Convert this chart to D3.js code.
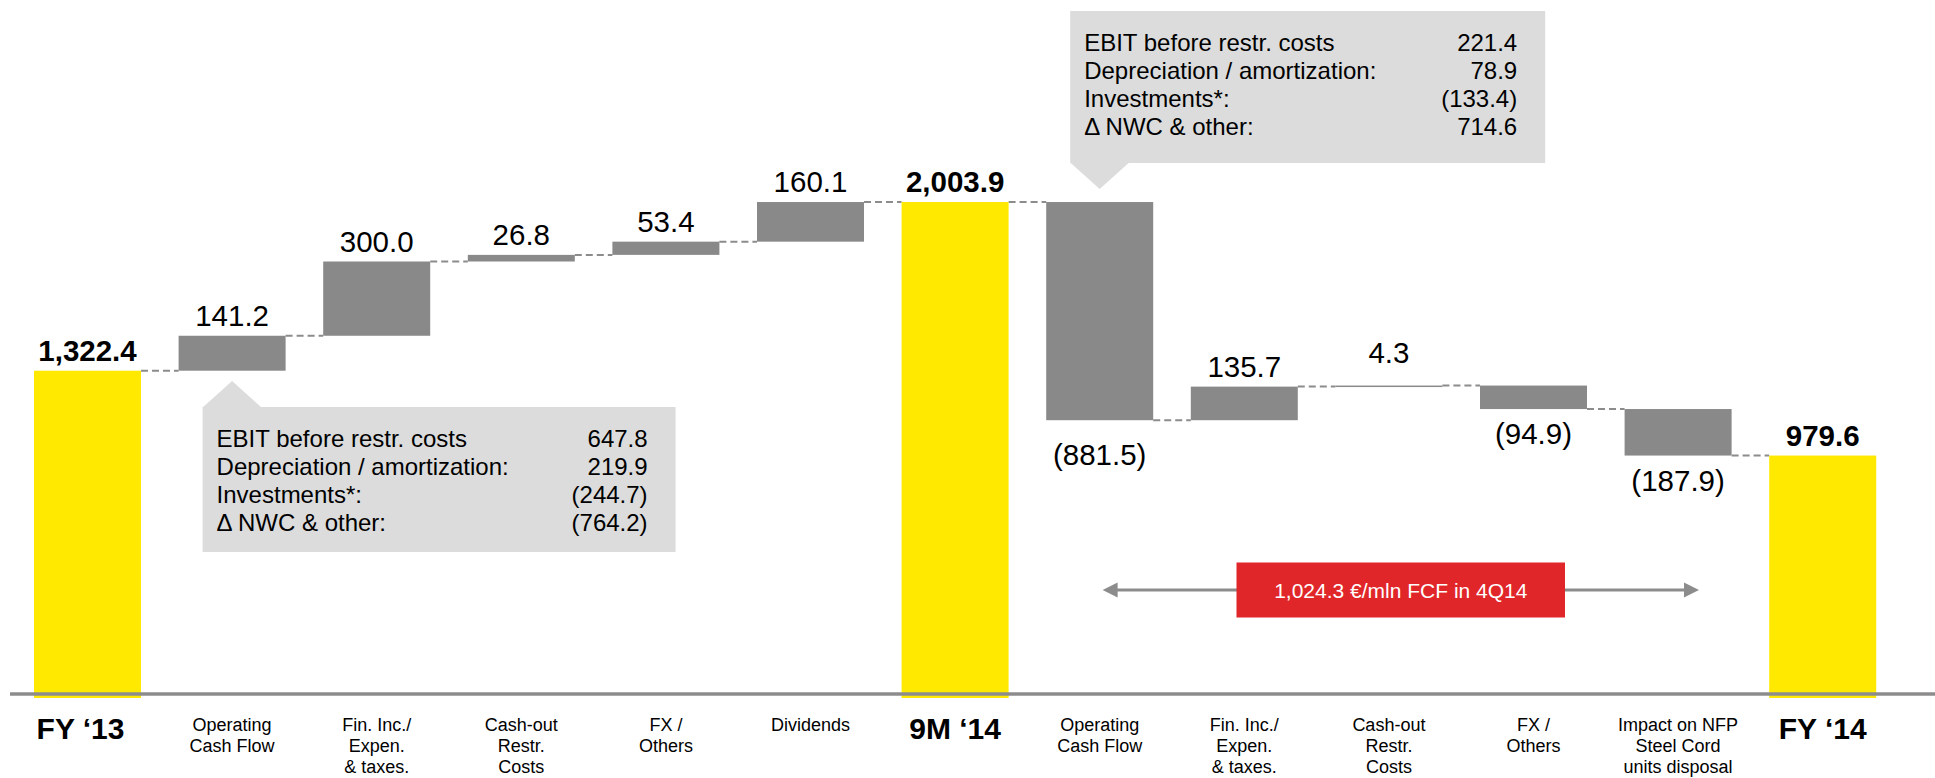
<!DOCTYPE html>
<html>
<head>
<meta charset="utf-8">
<script src="https://cdn.jsdelivr.net/npm/d3@7"></script>
<style>
  html, body { margin: 0; padding: 0; background: #ffffff; }
  svg { display: block; }
  text { font-family: "Liberation Sans", Arial, "Helvetica", sans-serif; }
</style>
</head>
<body>
<svg id="chart" width="1935" height="778"></svg>
<script>
// ---------------- DATA ----------------
const categories = [
  "FY \u201813",
  "Operating\nCash Flow",
  "Fin. Inc./\nExpen.\n& taxes.",
  "Cash-out\nRestr.\nCosts",
  "FX /\nOthers",
  "Dividends",
  "9M \u201814",
  "Operating\nCash Flow",
  "Fin. Inc./\nExpen.\n& taxes.",
  "Cash-out\nRestr.\nCosts",
  "FX /\nOthers",
  "Impact on NFP\nSteel Cord\nunits disposal",
  "FY \u201814"
];
const barKinds = ["total","delta","delta","delta","delta","delta","total","delta","delta","delta","delta","delta","total"];
const values = [1322.4, 141.2, 300.0, 26.8, 53.4, 160.1, 2003.9, -881.5, 135.7, 4.3, -94.9, -187.9, 979.6];

const calloutLabels = ["EBIT before restr. costs", "Depreciation / amortization:", "Investments*:", "\u0394 NWC & other:"];
const callout9MValues = ["647.8", "219.9", "(244.7)", "(764.2)"];
const callout4QValues = ["221.4", "78.9", "(133.4)", "714.6"];
const fcfText = "1,024.3 \u20ac/mln FCF in 4Q14";

// ---------------- STYLE ----------------
const YELLOW = "#FFE900";
const GRAY = "#898989";
const LINE_GRAY = "#8c8c8c";
const BOX_GRAY = "#dcdcdc";
const RED = "#e1262a";

const svg = d3.select("#chart");
const n = values.length;

const x = d3.scaleBand()
  .domain(d3.range(n))
  .range([15.2, 1895])
  .paddingInner(0.26)
  .paddingOuter(0.13);

const y = d3.scaleLinear().domain([0, 2000]).range([698, 203]);

// compute waterfall segments
let cum = 0;
const bars = values.map((v, i) => {
  let start, end;
  if (barKinds[i] === "total") { start = 0; end = v; }
  else { start = cum; end = cum + v; }
  cum = end;
  return { i, v, kind: barKinds[i], start, end, lo: Math.min(start, end), hi: Math.max(start, end) };
});

// connectors
const gConn = svg.append("g");
bars.slice(0, -1).forEach(b => {
  gConn.append("line")
    .attr("x1", x(b.i) + x.bandwidth())
    .attr("x2", x(b.i + 1))
    .attr("y1", y(b.end)).attr("y2", y(b.end))
    .attr("stroke", LINE_GRAY)
    .attr("stroke-width", 2)
    .attr("stroke-dasharray", "7,4");
});

// bars
svg.append("g").selectAll("rect").data(bars).join("rect")
  .attr("x", d => x(d.i))
  .attr("width", x.bandwidth())
  .attr("y", d => y(d.hi))
  .attr("height", d => Math.max(1.5, y(d.lo) - y(d.hi)))
  .attr("fill", d => d.kind === "total" ? YELLOW : GRAY);

// baseline
svg.append("line")
  .attr("x1", 10).attr("x2", 1935)
  .attr("y1", 694).attr("y2", 694)
  .attr("stroke", LINE_GRAY).attr("stroke-width", 3.5);

// value labels
const fmtTotal = d3.format(",.1f");
const fmtDelta = d3.format(".1f");
const labelNudge = { 7: 10, 9: -13 };
svg.append("g").selectAll("text").data(bars).join("text")
  .attr("x", d => x(d.i) + x.bandwidth() / 2)
  .attr("y", d => {
    const nudge = labelNudge[d.i] || 0;
    if (d.v >= 0) return y(d.hi) - 10 + nudge;
    return y(d.lo) + 35 + nudge;
  })
  .attr("text-anchor", "middle")
  .attr("font-size", d => d.kind === "total" ? 29.5 : 29.5)
  .attr("font-weight", d => d.kind === "total" ? "bold" : "normal")
  .attr("fill", "#000")
  .text(d => d.kind === "total" ? fmtTotal(d.v) : (d.v < 0 ? "(" + fmtDelta(-d.v) + ")" : fmtDelta(d.v)));

// category labels
const gCat = svg.append("g");
const catNudge = { 0: -7 };
categories.forEach((c, i) => {
  const cx = x(i) + x.bandwidth() / 2 + (catNudge[i] || 0);
  if (barKinds[i] === "total") {
    gCat.append("text")
      .attr("x", cx).attr("y", 739)
      .attr("text-anchor", "middle")
      .attr("font-size", 30).attr("font-weight", "bold")
      .text(c);
  } else {
    const t = gCat.append("text")
      .attr("text-anchor", "middle")
      .attr("font-size", 18);
    c.split("\n").forEach((line, k) => {
      t.append("tspan").attr("x", cx).attr("y", 731 + k * 21).text(line);
    });
  }
});

// callouts
function callout(barIndex, pointUp, apexY, gap, w, h, vals) {
  const ax = x(barIndex) + x.bandwidth() / 2;
  const left = ax - 29.5;
  const top = pointUp ? apexY + gap : apexY - gap - h;
  const baseY = pointUp ? top + 0.5 : top + h - 0.5;
  const g = svg.append("g");
  g.append("rect").attr("x", left).attr("y", top).attr("width", w).attr("height", h).attr("fill", BOX_GRAY);
  g.append("path")
    .attr("d", `M${left},${baseY} L${ax},${apexY} L${left + 59},${baseY} Z`)
    .attr("fill", BOX_GRAY);
  calloutLabels.forEach((lab, k) => {
    const by = top + 40 + k * 28;
    g.append("text").attr("x", left + 14).attr("y", by)
      .attr("font-size", 24).attr("fill", "#000").text(lab);
    g.append("text").attr("x", left + w - 28).attr("y", by)
      .attr("text-anchor", "end")
      .attr("font-size", 24).attr("fill", "#000").text(vals[k]);
  });
}
callout(1, true, 381, 26, 473, 145, callout9MValues);
callout(7, false, 189, 26, 475, 152, callout4QValues);

// FCF arrow + red box
const gA = svg.append("g");
const arrowY = 590;
const arrowL = 1102.6, arrowR = 1699;
gA.append("line").attr("x1", arrowL + 10).attr("x2", arrowR - 10)
  .attr("y1", arrowY).attr("y2", arrowY)
  .attr("stroke", LINE_GRAY).attr("stroke-width", 3);
gA.append("path").attr("d", `M${arrowL},${arrowY} L${arrowL + 15},${arrowY - 7.5} L${arrowL + 15},${arrowY + 7.5} Z`).attr("fill", LINE_GRAY);
gA.append("path").attr("d", `M${arrowR},${arrowY} L${arrowR - 15},${arrowY - 7.5} L${arrowR - 15},${arrowY + 7.5} Z`).attr("fill", LINE_GRAY);
gA.append("rect").attr("x", 1236.5).attr("y", 562.5).attr("width", 328.5).attr("height", 55).attr("fill", RED);
gA.append("text").attr("x", 1400.8).attr("y", 598)
  .attr("text-anchor", "middle").attr("font-size", 21).attr("fill", "#fff")
  .text(fcfText);
</script>
</body>
</html>
